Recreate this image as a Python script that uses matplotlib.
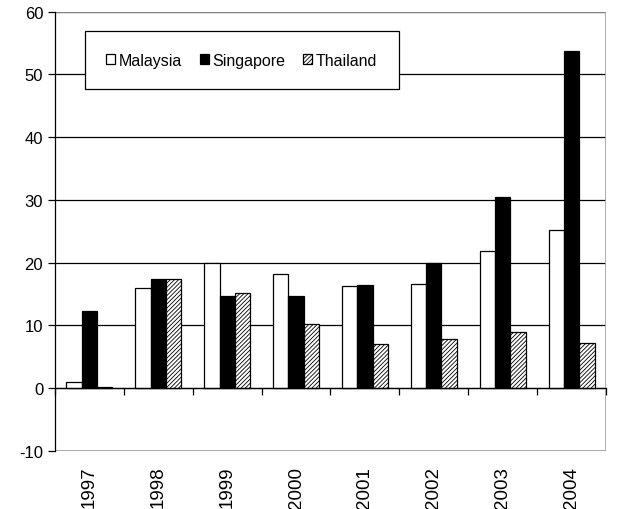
import matplotlib.pyplot as plt
import matplotlib.patches as mpatches
import numpy as np

plt.rcParams['font.family'] = ['Liberation Sans', 'DejaVu Sans']
plt.rcParams['axes.unicode_minus'] = False
plt.rcParams['hatch.linewidth'] = 0.6

# data
years = ['1997', '1998', '1999', '2000', '2001', '2002', '2003', '2004']
malaysia = [1.0, 15.9, 19.9, 18.1, 16.2, 16.6, 21.8, 25.2]
singapore = [12.3, 17.3, 14.6, 14.7, 16.5, 20.0, 30.5, 53.7]
thailand = [0.1, 17.4, 15.1, 10.2, 7.0, 7.8, 8.9, 7.2]

fig = plt.figure(figsize=(6.27, 5.10), dpi=100)
ax = fig.add_axes([0.0877, 0.1143, 0.8788, 0.8608])

x = np.arange(len(years))
w = 1 / 4.5
ax.bar(x - w, malaysia, w, color='white', edgecolor='black', linewidth=0.9,
       label='Malaysia', zorder=3)
ax.bar(x, singapore, w, color='black', edgecolor='black', linewidth=0.9,
       label='Singapore', zorder=3)
ax.bar(x + w, thailand, w, color='white', edgecolor='black', linewidth=0.9,
       hatch='////////', label='Thailand', zorder=3)

ax.set_xlim(-0.5, len(years) - 0.5)
ax.set_ylim(-10, 60)
ax.set_yticks(range(-10, 61, 10))

# horizontal grid lines
ax.yaxis.grid(True, color='black', linewidth=0.9, zorder=1)
ax.set_axisbelow(True)

# frame: gray box, black left axis
frame = mpatches.Rectangle((0, 0), 1, 1, transform=ax.transAxes, fill=False,
                           edgecolor='#a0a0a0', linewidth=1.2, zorder=2)
ax.add_patch(frame)
for s in ['top', 'right']:
    ax.spines[s].set_visible(False)
ax.spines['left'].set_color('black')
ax.spines['left'].set_linewidth(0.9)
ax.spines['bottom'].set_position(('data', 0))
ax.spines['bottom'].set_color('black')
ax.spines['bottom'].set_linewidth(0.9)
ax.spines['bottom'].set_zorder(4)

# x ticks: boundary ticks on zero line, labels below plot
ax.set_xticks(x)
ax.set_xticklabels(years, rotation=90, fontsize=13.5)
ax.set_xticks(np.arange(len(years) + 1) - 0.5, minor=True)
ax.tick_params(axis='x', which='major', length=0, pad=56)
ax.tick_params(axis='x', which='minor', length=5, width=0.9, direction='out')
ax.tick_params(axis='y', length=5, width=0.9, direction='out', labelsize=12)

leg = ax.legend(loc='upper left', bbox_to_anchor=(0.054, 0.956), ncol=3,
                fontsize=11.5, frameon=True, fancybox=False, shadow=False,
                handlelength=0.55, handleheight=0.55, handletextpad=0.25,
                columnspacing=1.1, borderpad=1.35, borderaxespad=0)
leg.get_frame().set_edgecolor('black')
leg.get_frame().set_linewidth(0.9)
leg.get_frame().set_alpha(1)
leg.set_zorder(5)

fig.savefig('out.png', dpi=100, facecolor='white')
plt.close()
